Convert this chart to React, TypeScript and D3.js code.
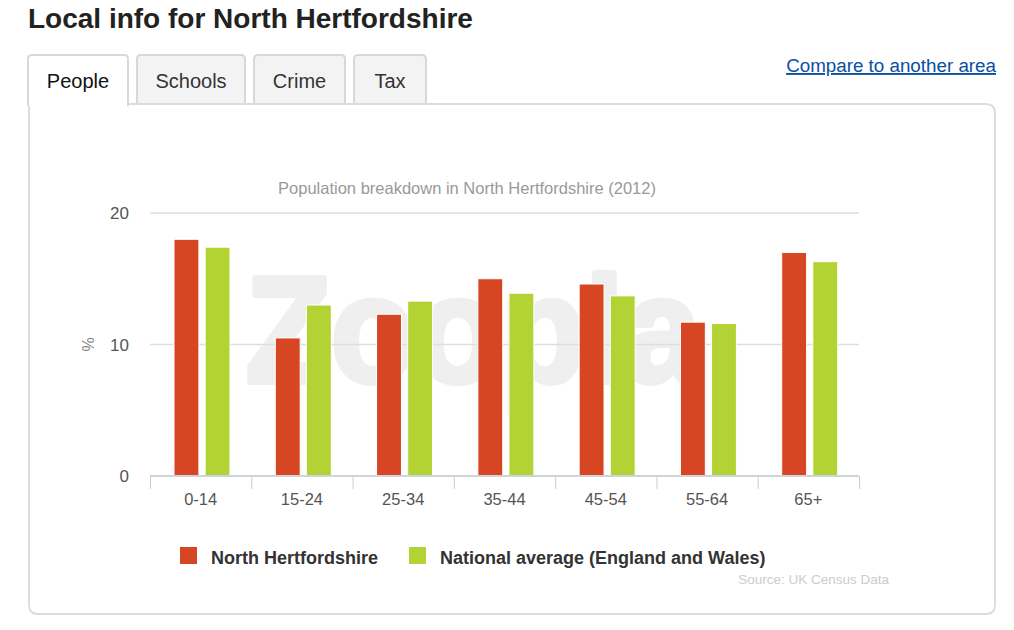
import React from 'react';
import * as d3 from 'd3';

const categories = ['0-14', '15-24', '25-34', '35-44', '45-54', '55-64', '65+'];
const localValues = [18.0, 10.5, 12.3, 15.0, 14.6, 11.7, 17.0];
const nationalValues = [17.4, 13.0, 13.3, 13.9, 13.7, 11.6, 16.3];
const seriesNames = ['North Hertfordshire', 'National average (England and Wales)'];
const yTicks = [0, 10, 20];
const tabs = ['People', 'Schools', 'Crime', 'Tax'];

const W = 1014;
const H = 630;
const font = '"Liberation Sans", Arial, sans-serif';
const RED = '#d64623';
const GREEN = '#b3d335';

const App = () => {
  const x = d3.scaleBand().domain(categories).range([150, 859]);
  const y = d3.scaleLinear().domain([0, 20]).range([476, 213]);
  const inner = d3.scaleBand().domain(['a', 'b']).range([24, 80]).paddingInner(0.2);

  // tab geometry
  const tabX = [28, 137, 254, 354];
  const tabW = [100, 108, 91, 72];

  const series = [
    { name: seriesNames[0], values: localValues, color: RED, key: 'a' },
    { name: seriesNames[1], values: nationalValues, color: GREEN, key: 'b' },
  ];

  return (
    <div style={{ position: 'fixed', left: 0, top: 0 }}>
      <svg width={W} height={H} style={{ display: 'block', background: '#fff' }} fontFamily={font}>
        <text x={28} y={28} fontSize={28} fontWeight="bold" fill="#222">Local info for North Hertfordshire</text>

        {/* panel */}
        <path d="M29,104 H986 Q995,104 995,113 V605 Q995,614 986,614 H38 Q29,614 29,605 Z" fill="#fff" stroke="#dcdcdc" strokeWidth={2} />

        {/* tabs */}
        {tabs.map((t, i) => {
          const active = i === 0;
          const x0 = tabX[i];
          const w = tabW[i];
          const bottom = active ? 106 : 103;
          return (
            <g key={t}>
              <path
                d={`M${x0},${bottom} V${59} Q${x0},${55} ${x0 + 4},${55} H${x0 + w - 4} Q${x0 + w},${55} ${x0 + w},${59} V${bottom}`}
                fill={active ? '#fff' : '#f3f3f3'}
                stroke="#d8d8d8"
                strokeWidth={2}
              />
              <text x={x0 + w / 2} y={88} fontSize={20} textAnchor="middle" fill={active ? '#111' : '#333'}>{t}</text>
            </g>
          );
        })}

        <text x={996} y={72} fontSize={18.8} textAnchor="end" fill="#0b4ea2" textDecoration="underline">Compare to another area</text>

        {/* watermark */}
        <text
          x={246} y={382} fontSize={150} fontWeight="bold" fill="#efefef"
          stroke="#efefef" strokeWidth={6} strokeLinejoin="round"
          textLength={455} lengthAdjust="spacingAndGlyphs"
        >Zoopla</text>

        <text x={467} y={194} fontSize={16.5} textAnchor="middle" fill="#999">Population breakdown in North Hertfordshire (2012)</text>

        {/* grid */}
        {yTicks.filter(t => t > 0).map(t => (
          <line key={t} x1={150} x2={859} y1={y(t)} y2={y(t)} stroke="#dedede" strokeWidth={1.5} />
        ))}
        {yTicks.map(t => (
          <text key={t} x={129} y={y(t) + 6} fontSize={17} textAnchor="end" fill="#555">{t}</text>
        ))}
        <text transform={`translate(94,${y(10)}) rotate(-90)`} fontSize={16} textAnchor="middle" fill="#888">%</text>

        {/* bars */}
        {series.map(s => (
          <g key={s.key}>
            {categories.map((c, i) => {
              const bx = (x(c) as number) + (inner(s.key) as number);
              return (
                <rect
                  key={c}
                  x={bx}
                  y={y(s.values[i])}
                  width={inner.bandwidth()}
                  height={y(0) - y(s.values[i])}
                  fill={s.color}
                  stroke="#fff"
                  strokeWidth={1}
                />
              );
            })}
          </g>
        ))}

        {/* x axis */}
        <line x1={150} x2={859} y1={476} y2={476} stroke="#cfd4da" strokeWidth={2} />
        {[...categories.map(c => x(c) as number), 859].map((tx, i) => (
          <line key={i} x1={tx + 0.5} x2={tx + 0.5} y1={476} y2={489} stroke="#c0d0e0" strokeWidth={1} />
        ))}
        {categories.map(c => (
          <text key={c} x={(x(c) as number) + x.bandwidth() / 2} y={505} fontSize={16.5} textAnchor="middle" fill="#555">{c}</text>
        ))}

        {/* legend */}
        <rect x={180} y={547} width={17} height={17} fill={RED} />
        <text x={211} y={564} fontSize={18} fontWeight="bold" fill="#333">{seriesNames[0]}</text>
        <rect x={409} y={547} width={17} height={17} fill={GREEN} />
        <text x={440} y={564} fontSize={18} fontWeight="bold" fill="#333">{seriesNames[1]}</text>

        <text x={889} y={584} fontSize={13.5} textAnchor="end" fill="#ccc">Source: UK Census Data</text>
      </svg>
    </div>
  );
};

export default App;
